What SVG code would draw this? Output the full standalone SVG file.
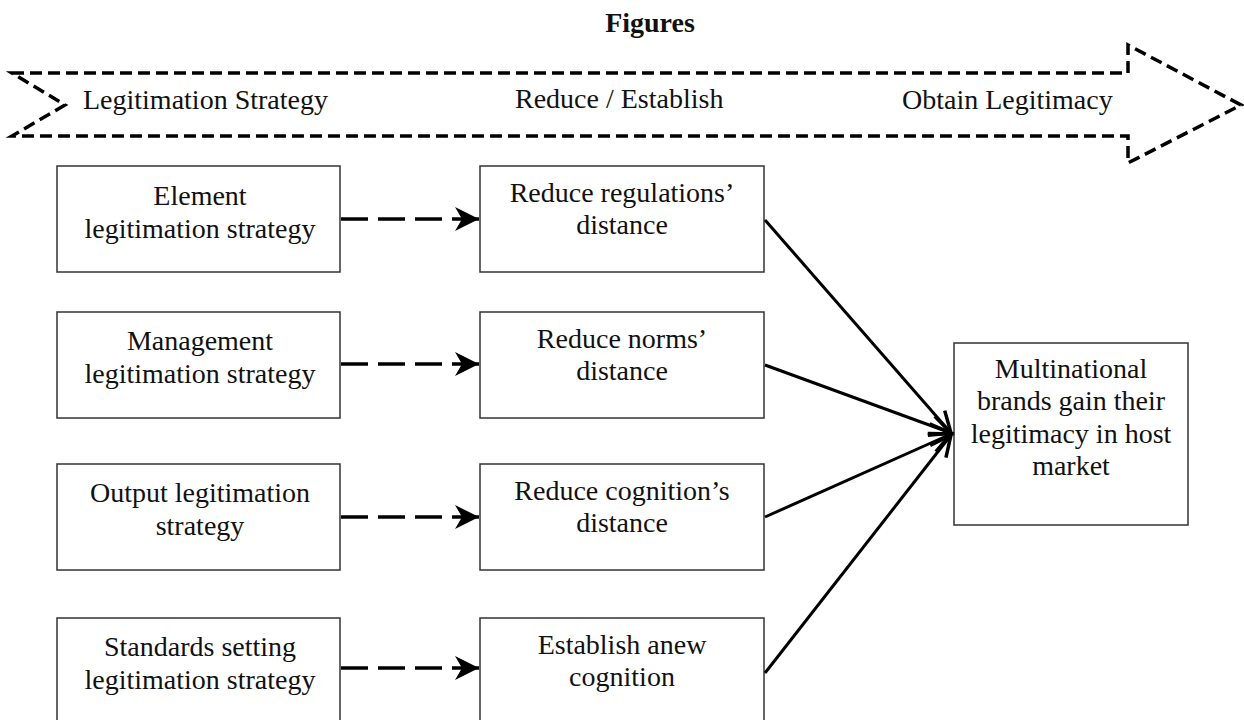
<svg xmlns="http://www.w3.org/2000/svg" width="1244" height="720" viewBox="0 0 1244 720">
<style>
  text { font-family: "Liberation Serif", "Times New Roman", serif; font-size: 28px; fill: #111; }
  .c { text-anchor: middle; }
  .title { font-weight: bold; }
  .box { fill: #fff; stroke: #333; stroke-width: 1.5; }
  .band { fill: none; stroke: #000; stroke-width: 3.5; stroke-dasharray: 12 6; stroke-linejoin: miter; }
  .dash { fill: none; stroke: #000; stroke-width: 3.5; stroke-dasharray: 27 10; }
  .solid { fill: none; stroke: #000; stroke-width: 3; }
</style>
<defs>
  <marker id="stealth" markerUnits="userSpaceOnUse" markerWidth="30" markerHeight="30" viewBox="-26 -15 30 30" refX="0" refY="0" orient="auto">
    <path d="M0,0 L-24,-12 L-17,0 L-24,12 Z" fill="#000"/>
  </marker>
  <marker id="open" markerUnits="userSpaceOnUse" markerWidth="30" markerHeight="30" viewBox="-26 -15 30 30" refX="0" refY="0" orient="auto">
    <path d="M-21,-10 L0,0 L-21,10" fill="none" stroke="#000" stroke-width="3.5"/>
  </marker>
</defs>

<text class="c title" x="650" y="32">Figures</text>

<g id="band">
  <path class="band" d="M12,73 L1128,73 L1128,45 L1241,105 L1128,163 L1128,136 L12,136 L65,105 Z"/>
  <text x="83" y="109">Legitimation Strategy</text>
  <text x="515" y="108">Reduce / Establish</text>
  <text x="902" y="109">Obtain Legitimacy</text>
</g>

<g id="element">
  <rect class="box" x="57" y="166" width="283" height="106"/>
  <text class="c" x="200" y="205">Element</text>
  <text class="c" x="200" y="238">legitimation strategy</text>
</g>
<g id="management">
  <rect class="box" x="57" y="312" width="283" height="106"/>
  <text class="c" x="200" y="350">Management</text>
  <text class="c" x="200" y="383">legitimation strategy</text>
</g>
<g id="output">
  <rect class="box" x="57" y="464" width="283" height="106"/>
  <text class="c" x="200" y="502">Output legitimation</text>
  <text class="c" x="200" y="535">strategy</text>
</g>
<g id="standards">
  <rect class="box" x="57" y="618" width="283" height="106"/>
  <text class="c" x="200" y="656">Standards setting</text>
  <text class="c" x="200" y="689">legitimation strategy</text>
</g>

<g id="regulations">
  <rect class="box" x="480" y="166" width="284" height="106"/>
  <text class="c" x="622" y="202">Reduce regulations’</text>
  <text class="c" x="622" y="234">distance</text>
</g>
<g id="norms">
  <rect class="box" x="480" y="312" width="284" height="106"/>
  <text class="c" x="622" y="348">Reduce norms’</text>
  <text class="c" x="622" y="380">distance</text>
</g>
<g id="cognition">
  <rect class="box" x="480" y="464" width="284" height="106"/>
  <text class="c" x="622" y="500">Reduce cognition’s</text>
  <text class="c" x="622" y="532">distance</text>
</g>
<g id="anew">
  <rect class="box" x="480" y="618" width="284" height="106"/>
  <text class="c" x="622" y="654">Establish anew</text>
  <text class="c" x="622" y="686">cognition</text>
</g>

<g id="multinational">
  <rect class="box" x="954" y="343" width="234" height="182"/>
  <text class="c" x="1071" y="378">Multinational</text>
  <text class="c" x="1071" y="410">brands gain their</text>
  <text class="c" x="1071" y="443">legitimacy in host</text>
  <text class="c" x="1071" y="475">market</text>
</g>

<g id="connectors">
  <line class="dash" x1="341" y1="219" x2="479" y2="219" marker-end="url(#stealth)"/>
  <line class="dash" x1="341" y1="364" x2="479" y2="364" marker-end="url(#stealth)"/>
  <line class="dash" x1="341" y1="517" x2="479" y2="517" marker-end="url(#stealth)"/>
  <line class="dash" x1="341" y1="668" x2="479" y2="668" marker-end="url(#stealth)"/>
  <line class="solid" x1="765" y1="220" x2="951" y2="433" marker-end="url(#open)"/>
  <line class="solid" x1="765" y1="365" x2="951" y2="433" marker-end="url(#open)"/>
  <line class="solid" x1="765" y1="517" x2="951" y2="434" marker-end="url(#open)"/>
  <line class="solid" x1="765" y1="673" x2="951" y2="435" marker-end="url(#open)"/>
</g>
</svg>
